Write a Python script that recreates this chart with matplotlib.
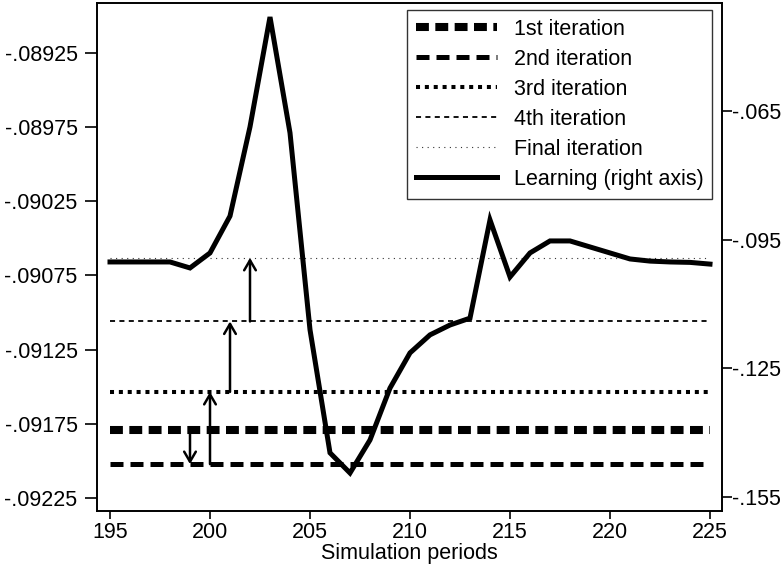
import numpy as np
import matplotlib
matplotlib.use("Agg")
import matplotlib.pyplot as plt
from matplotlib.ticker import FuncFormatter

plt.rcParams["font.family"] = ["Liberation Sans", "DejaVu Sans"]
plt.rcParams["axes.unicode_minus"] = False

# values
periods = np.arange(195, 226)
learning = [-.1002, -.1002, -.1002, -.1002, -.1016, -.0981, -.0895, -.0687,
            -.0431, -.0701, -.1160, -.1447, -.1494, -.1417, -.1296, -.1214,
            -.1172, -.1149, -.1133, -.0904, -.1037, -.0981, -.0953, -.0953,
            -.0967, -.0981, -.0995, -.1000, -.1002, -.1003, -.1007]

iter_labels = ["1st iteration", "2nd iteration", "3rd iteration",
               "4th iteration", "Final iteration"]
iter_values = [-.09179, -.092022, -.091535, -.09106, -.090631]
arrow_periods = [199, 200, 201, 202]

left_ticks = [-.08925, -.08975, -.09025, -.09075, -.09125, -.09175, -.09225]
right_ticks = [-.065, -.095, -.125, -.155]
x_ticks = [195, 200, 205, 210, 215, 220, 225]

# line styles: (linewidth pt, dash pattern in lw units, colour)
styles = [
    (5.8, (1.6, 0.8), "black"),
    (3.6, (2.6, 1.4), "black"),
    (2.9, (1.0, 1.2), "black"),
    (1.3, (2.8, 2.4), "black"),
    (0.8, (1.0, 4.0), "#333333"),
]


def strip_zero(v, pos=None):
    # Stata style: -.08925, no leading zero
    s = f"{v:.5f}".rstrip("0")
    return s.replace("0.", ".", 1)


fig = plt.figure(figsize=(7.84, 5.66), dpi=100)
ax = fig.add_axes([97 / 784, 55 / 566, 625 / 784, 508 / 566])
ax2 = ax.twinx()

handles = []
for lab, val, (lw, dash, col) in zip(iter_labels, iter_values, styles):
    h, = ax.plot([periods[0], periods[-1]], [val, val], color=col, lw=lw,
                 dashes=dash, dash_capstyle="butt", label=lab)
    handles.append(h)

for i, xp in enumerate(arrow_periods):
    ax.annotate("", xy=(xp, iter_values[i + 1]), xytext=(xp, iter_values[i]),
                arrowprops=dict(arrowstyle="->,head_length=0.6,head_width=0.35",
                                lw=1.8, color="black", shrinkA=0, shrinkB=0,
                                mutation_scale=12))

hl, = ax2.plot(periods, learning, color="black", lw=3.6,
               solid_joinstyle="miter", label="Learning (right axis)")
handles.append(hl)

ax.set_xlim(194.35, 225.6)
ax.set_ylim(-.092338, -.088913)
ax2.set_ylim(-.15826, -.03983)

ax.set_xticks(x_ticks)
ax.set_yticks(left_ticks)
ax2.set_yticks(right_ticks)
ax.yaxis.set_major_formatter(FuncFormatter(strip_zero))
ax2.yaxis.set_major_formatter(FuncFormatter(strip_zero))

fs = 15.5
ax.tick_params(axis="x", labelsize=fs, length=6, width=1.2, pad=2)
ax.tick_params(axis="y", labelsize=fs, length=9, width=1.2, pad=5)
ax2.tick_params(axis="y", labelsize=fs, length=7, width=1.2, pad=0)
for a in (ax, ax2):
    for sp in a.spines.values():
        sp.set_linewidth(1.2)
        sp.set_color("black")

ax.set_xlabel("Simulation periods", fontsize=fs, labelpad=0)

leg = ax2.legend(handles=handles, loc="upper right",
                 bbox_to_anchor=(0.984, 0.986), borderaxespad=0,
                 fontsize=fs, frameon=True, fancybox=False,
                 edgecolor="black", handlelength=3.8, handletextpad=0.75,
                 labelspacing=0.42, borderpad=0.4)
leg.get_frame().set_linewidth(1.0)

fig.savefig("out.png", dpi=100)
